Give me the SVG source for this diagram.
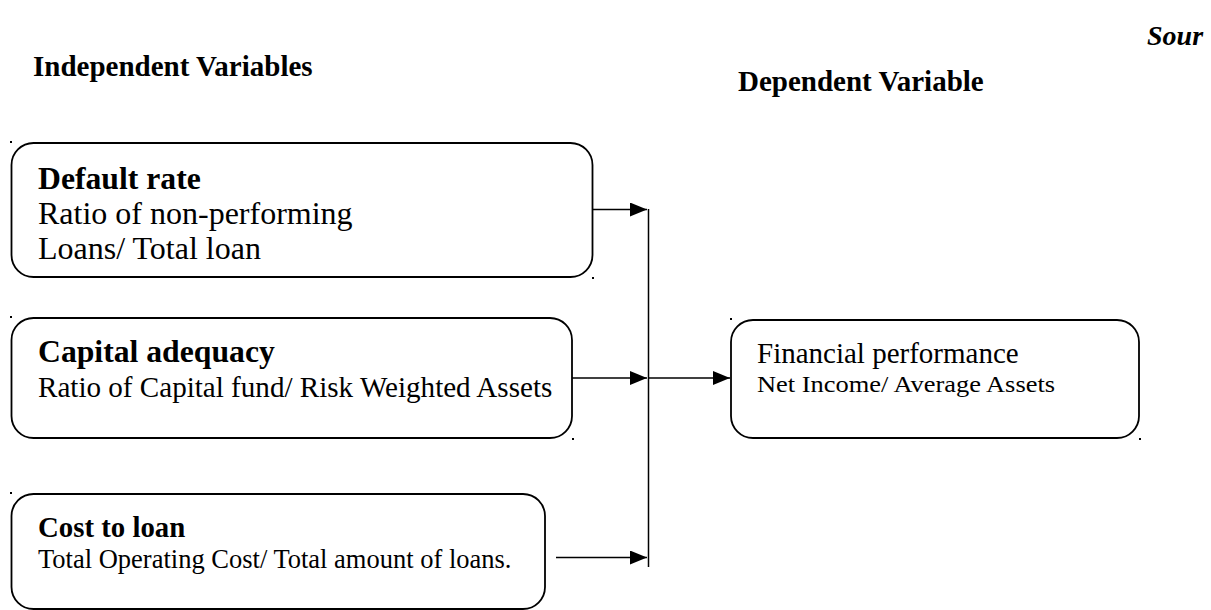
<svg xmlns="http://www.w3.org/2000/svg" width="1211" height="610" viewBox="0 0 1211 610">
<style>
.box{fill:#fff;stroke:#000;stroke-width:1.8}
.dot{fill:#000}
.t{font-family:"Liberation Serif","Times New Roman",serif;fill:#000}
.b{font-weight:bold}
.ln{stroke:#000;stroke-width:1.5;fill:none}
</style>
<defs>
<marker id="ah" markerUnits="userSpaceOnUse" markerWidth="17" markerHeight="14" refX="17" refY="7" orient="auto">
<path d="M0,0 L17,7 L0,14 Z" fill="#000"/>
</marker>
</defs>
<rect width="1211" height="610" fill="#fff"/>
<text class="t b" x="33" y="76" font-size="29">Independent Variables</text>
<text class="t b" x="738" y="91" font-size="29">Dependent Variable</text>
<text class="t b" x="1147" y="45" font-size="28" font-style="italic">Sour</text>
<g id="default-rate">
<rect class="box" x="11.5" y="143" width="581" height="134" rx="22"/>
<rect class="dot" x="10" y="141" width="2" height="2"/>
<rect class="dot" x="592" y="277" width="2" height="2"/>
<text class="t b" x="38" y="189" font-size="31.7">Default rate</text>
<text class="t" x="38" y="224" font-size="32">Ratio of non-performing</text>
<text class="t" x="38" y="259" font-size="32">Loans/ Total loan</text>
</g>
<g id="capital-adequacy">
<rect class="box" x="11.5" y="318" width="560.5" height="120" rx="22"/>
<rect class="dot" x="10" y="316" width="2" height="2"/>
<rect class="dot" x="572" y="438" width="2" height="2"/>
<text class="t b" x="38" y="362" font-size="31.7">Capital adequacy</text>
<text class="t" x="38" y="397" font-size="29.1">Ratio of Capital fund/ Risk Weighted Assets</text>
</g>
<g id="cost-to-loan">
<rect class="box" x="11.5" y="494" width="533.5" height="115" rx="22"/>
<rect class="dot" x="10" y="492" width="2" height="2"/>
<text class="t b" x="38" y="537" font-size="28.8">Cost to loan</text>
<text class="t" x="38" y="568" font-size="26.5">Total Operating Cost/ Total amount of loans.</text>
</g>
<g id="financial-performance">
<rect class="box" x="731" y="320" width="408" height="118" rx="22"/>
<rect class="dot" x="730" y="318" width="2" height="2"/>
<rect class="dot" x="1139" y="438" width="2" height="2"/>
<text class="t" x="757" y="363" font-size="29">Financial performance</text>
<text class="t" x="757" y="392" font-size="24" textLength="298" lengthAdjust="spacingAndGlyphs">Net Income/ Average Assets</text>
</g>
<g id="connectors">
<line class="ln" x1="648.5" y1="209" x2="648.5" y2="567"/>
<line class="ln" x1="592.5" y1="209.5" x2="647" y2="209.5" marker-end="url(#ah)"/>
<line class="ln" x1="572" y1="378" x2="647" y2="378" marker-end="url(#ah)"/>
<line class="ln" x1="556" y1="557.5" x2="647" y2="557.5" marker-end="url(#ah)"/>
<line class="ln" x1="648.5" y1="378" x2="730" y2="378" marker-end="url(#ah)"/>
</g>
</svg>
